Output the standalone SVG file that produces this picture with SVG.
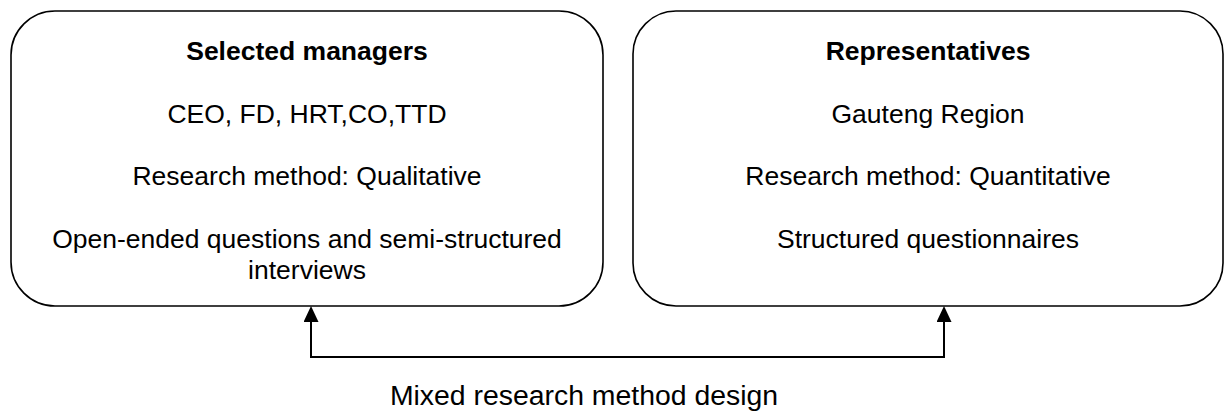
<svg xmlns="http://www.w3.org/2000/svg" width="1224" height="416" viewBox="0 0 1224 416">
  <style>
    .box { fill: #ffffff; stroke: #000000; stroke-width: 1.6; }
    .txt { font-family: "Liberation Sans", Arial, sans-serif; font-size: 26.5px; fill: #000000; text-anchor: middle; }
    .title { font-weight: bold; }
    .link { fill: none; stroke: #000000; stroke-width: 2; }
    .caption { font-family: "Liberation Sans", Arial, sans-serif; font-size: 28.4px; fill: #000000; text-anchor: middle; }
  </style>
  <defs>
    <marker id="arrow" viewBox="0 0 16 15" refX="10" refY="7.5" markerWidth="16" markerHeight="15" markerUnits="userSpaceOnUse" orient="auto-start-reverse">
      <path d="M0,0 L16,7.5 L0,15 z" fill="#000000"/>
    </marker>
  </defs>
  <rect width="1224" height="416" fill="#ffffff"/>

  <g id="managers">
    <rect class="box" x="11" y="11" width="592" height="295" rx="44" ry="44"/>
    <text class="txt title" x="307" y="60">Selected managers</text>
    <text class="txt" x="307" y="123">CEO, FD, HRT,CO,TTD</text>
    <text class="txt" x="307" y="185">Research method: Qualitative</text>
    <text class="txt" x="307" y="248">Open-ended questions and semi-structured</text>
    <text class="txt" x="307" y="279">interviews</text>
  </g>

  <g id="representatives">
    <rect class="box" x="633" y="11" width="590" height="295" rx="43" ry="43"/>
    <text class="txt title" x="928" y="60">Representatives</text>
    <text class="txt" x="928" y="123">Gauteng Region</text>
    <text class="txt" x="928" y="185">Research method: Quantitative</text>
    <text class="txt" x="928" y="248">Structured questionnaires</text>
  </g>

  <g id="connectors">
    <path class="link" d="M311,312 V357 H944 V312" marker-start="url(#arrow)" marker-end="url(#arrow)"/>
  </g>

  <g id="caption">
    <text class="caption" x="584" y="405">Mixed research method design</text>
  </g>
</svg>
